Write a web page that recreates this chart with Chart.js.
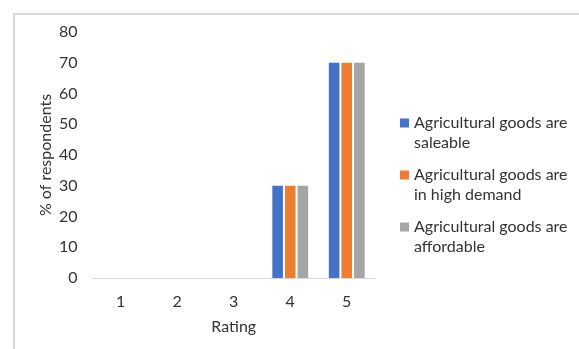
<!DOCTYPE html>
<html>
<head>
<meta charset="utf-8">
<script src="https://cdn.jsdelivr.net/npm/chart.js@4/dist/chart.umd.min.js"></script>
<style>
  html, body { margin: 0; padding: 0; background: #fff; }
  #wrap { position: relative; width: 579px; height: 349px; overflow: hidden; }
  #frame { position: absolute; left: 13px; top: 13px; width: 600px; height: 400px;
           border-left: 2px solid #d9d9d9; border-top: 2px solid #d9d9d9; pointer-events: none; }
  canvas { position: absolute; left: 0; top: 0; }
</style>
</head>
<body>
<div id="wrap">
  <canvas id="chart" width="579" height="349"></canvas>
  <div id="frame"></div>
</div>
<script>
const ratings = ['1', '2', '3', '4', '5'];
const saleable = [0, 0, 0, 30, 70];
const highDemand = [0, 0, 0, 30, 70];
const affordable = [0, 0, 0, 30, 70];
const seriesNames = [
  ['Agricultural goods are', 'saleable'],
  ['Agricultural goods are', 'in high demand'],
  ['Agricultural goods are', 'affordable']
];
const yTicks = [0, 10, 20, 30, 40, 50, 60, 70, 80];

const FONT = 'Lato, "Open Sans", sans-serif';
const TEXT = '#333333';

// Legend to the right of the plot, with wrapped labels
const sideLegend = {
  id: 'sideLegend',
  afterDraw(chart) {
    const ctx = chart.ctx;
    ctx.save();
    ctx.font = '16px ' + FONT;
    ctx.textBaseline = 'middle';
    ctx.textAlign = 'left';
    chart.data.datasets.forEach((ds, i) => {
      const y0 = 123 + i * 52;
      ctx.fillStyle = ds.backgroundColor;
      ctx.fillRect(400, y0 - 4.5, 9, 9);
      ctx.fillStyle = TEXT;
      ds.label.forEach((line, j) => ctx.fillText(line, 414, y0 + j * 20));
    });
    ctx.restore();
  }
};

new Chart(document.getElementById('chart'), {
  type: 'bar',
  data: {
    labels: ratings,
    datasets: [
      { label: seriesNames[0], data: saleable, backgroundColor: '#4472C4' },
      { label: seriesNames[1], data: highDemand, backgroundColor: '#ED7D31' },
      { label: seriesNames[2], data: affordable, backgroundColor: '#A5A5A5' }
    ]
  },
  options: {
    responsive: false,
    animation: false,
    layout: { padding: { left: 36.5, right: 204, top: 32, bottom: 12.4 } },
    datasets: { bar: { categoryPercentage: 0.67, barPercentage: 0.84 } },
    plugins: { legend: { display: false }, tooltip: { enabled: false } },
    scales: {
      x: {
        grid: { display: false, drawTicks: false },
        border: { display: true, color: '#d9d9d9', width: 1 },
        ticks: { color: TEXT, font: { family: FONT, size: 16 }, padding: 14.4 },
        title: { display: true, text: 'Rating', color: TEXT,
                 font: { family: FONT, size: 16 }, padding: 0 },
        afterFit(axis) { axis.height = 58.6; }
      },
      y: {
        min: 0, max: 80,
        grid: { display: false, drawTicks: false },
        border: { display: false },
        afterBuildTicks(axis) { axis.ticks = yTicks.map(v => ({ value: v })); },
        ticks: { color: TEXT, font: { family: FONT, size: 16 }, padding: 15 },
        title: { display: true, text: '% of respondents', color: TEXT,
                 font: { family: FONT, size: 16 }, padding: 0 },
        afterFit(axis) { axis.width = 56; }
      }
    }
  },
  plugins: [sideLegend]
});
</script>
</body>
</html>
